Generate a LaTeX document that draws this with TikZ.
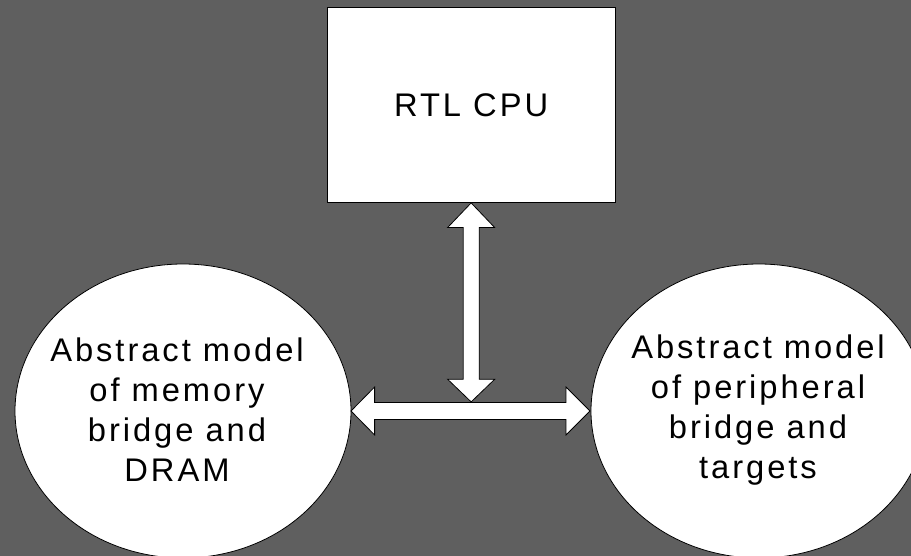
\documentclass[tikz,border=0pt]{standalone}
\usepackage{fontspec}
\setmainfont{Liberation Sans}[LetterSpace=9]
\usetikzlibrary{shapes.geometric}
\definecolor{bggray}{HTML}{5F5F5F}
\tikzset{
  boxnode/.style={draw=black, line width=0.8pt, fill=white, rectangle, inner sep=0pt, minimum width=287.7pt, minimum height=195.2pt},
  ellnode/.style={draw=black, line width=0.8pt, fill=white, ellipse, inner sep=0pt, outer sep=0pt, minimum width=336pt, minimum height=294pt},
  labeltext/.style={inner sep=0pt, align=center, font=\fontsize{32.7}{40}\selectfont},
  blockarrow/.style={draw=black, line width=0.8pt, fill=white, line join=miter},
}
\begin{document}
\begin{tikzpicture}[x=1pt, y=-1pt]
  \fill[bggray] (0,0) rectangle (911,556);
  \useasboundingbox (0,0) rectangle (911,556);
  \node[boxnode, font=\fontsize{32.7}{40}\selectfont] (cpu) at (471.15,104.9) {RTL CPU};
  \node[ellnode] (mem) at (183,411) {};
  \node[labeltext] (memtext) at (177,410) {Abstract model\\of memory\\bridge and\\DRAM};
  \node[ellnode] (per) at (759,411) {};
  \node[labeltext] (pertext) at (758,410) {Abstract model\\of peripheral\\bridge and\\targets\vphantom{A}};
  % vertical double block arrow from CPU to the horizontal arrow
  \draw[blockarrow] (cpu.south) -- ++(23.5,24.6) -- ++(-15.5,0) -- ++(0,151.8) -- ++(15.5,0)
     -- ++(-23.5,22.6) -- ++(-23.5,-22.6) -- ++(15.5,0) -- ++(0,-151.8) -- ++(-15.5,0) -- cycle;
  % horizontal double block arrow between the two models
  \draw[blockarrow] (mem.east) -- ++(23.6,-24) -- ++(0,15.5) -- ++(191.4,0) -- ++(0,-15.5)
     -- ++(24,24) -- ++(-24,24) -- ++(0,-15.5) -- ++(-191.4,0) -- ++(0,15.5) -- cycle;
\end{tikzpicture}
\end{document}
